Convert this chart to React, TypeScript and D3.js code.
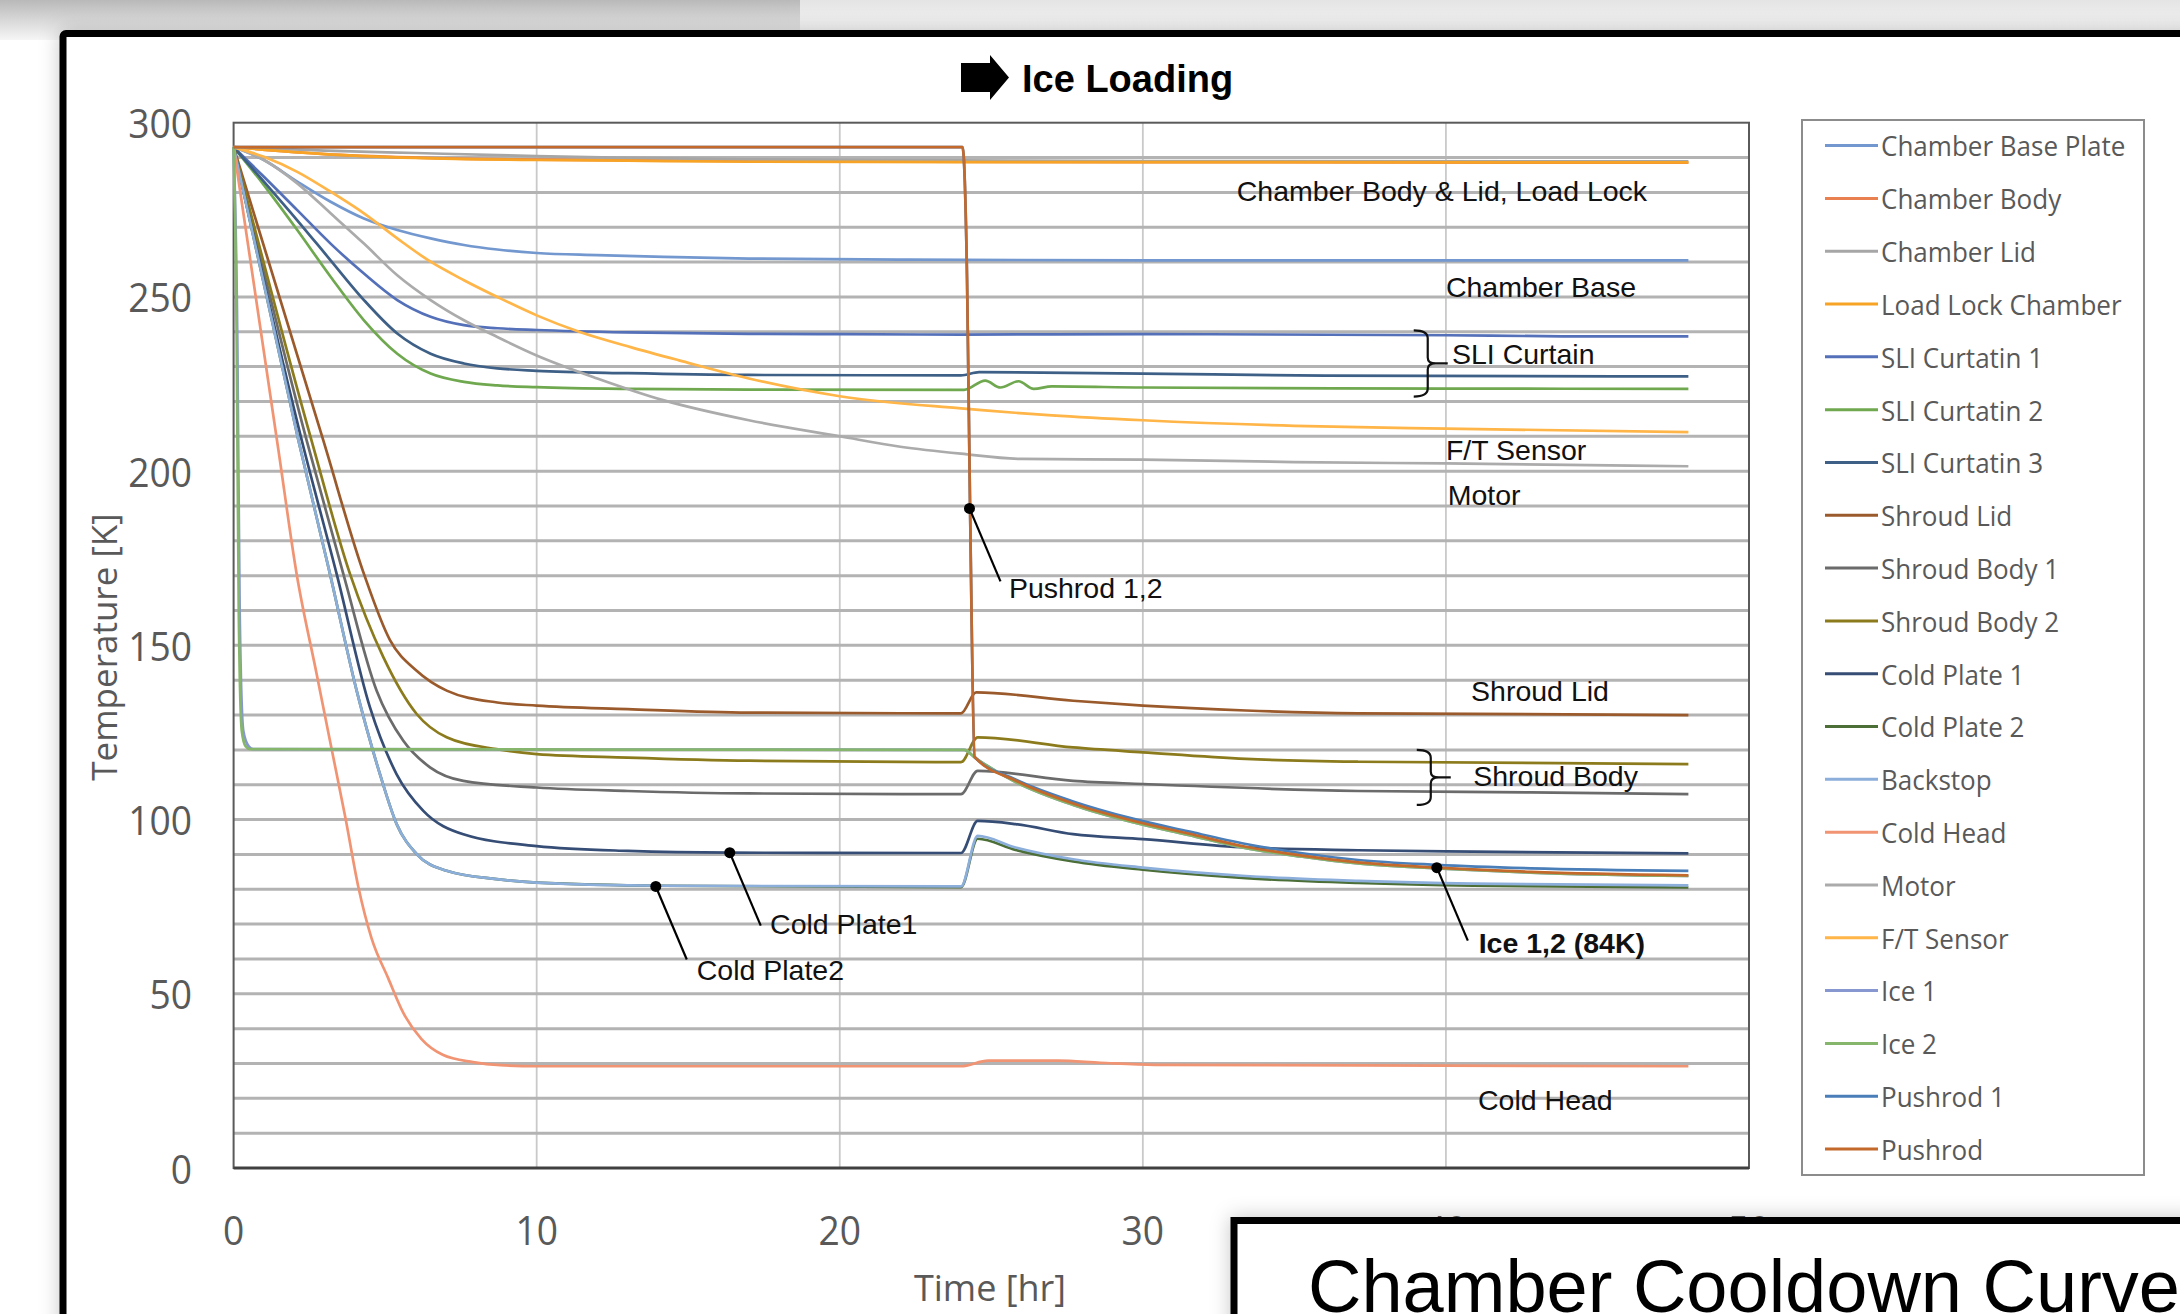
import * as d3 from 'd3'
import { useEffect, useRef } from 'react'

// time [hr], temperature [K]
const chamberBasePlate = [[0,293],[1,289.3],[2.1,283.1],[3.2,277.3],[4.3,272.5],[5.4,269.2],[6.5,266.8],[7.6,264.9],[8.7,263.6],[10,262.6],[12,262],[14.2,261.5],[17,261],[22,260.7],[30,260.5],[40,260.5],[48,260.5]]
const chamberBody = [[0,293],[3,291],[6,290],[10,289.4],[15,289.1],[20,288.9],[30,288.7],[48,288.5]]
const chamberLid = [[0,293],[3,292],[6,291.3],[10,290.4],[13,289.9],[17,289.5],[24,289.2],[30,289],[48,288.9]]
const loadLockChamber = [[0,293],[3,291],[6,289.9],[10,289.3],[13,289.1],[17,288.8],[24,288.7],[48,288.6]]
const sliCurtain1 = [[0,293],[1,284.5],[2.1,274.9],[3.2,265.3],[4.3,256.7],[5.4,249.1],[6.5,244.3],[7.6,241.9],[8.7,241],[10,240.5],[13,239.8],[17,239.4],[20,239.3],[24,239.2],[30,239.3],[40,239],[44,238.7],[48,238.7]]
const sliCurtain2 = [[0,293],[1,282.1],[2.1,269.2],[3.2,255.8],[4.3,243.3],[5.4,233.7],[6.5,228],[7.6,225.6],[8.7,224.6],[10,224.1],[13,223.6],[17,223.4],[24.1,223.3],[24.8,226],[25.3,224],[25.9,225.8],[26.4,223.6],[27,224.3],[30,224],[40,223.7],[48,223.6]]
const sliCurtain3 = [[0,293],[1,283.1],[2.1,272],[3.2,260.5],[4.3,249.1],[5.4,239.5],[6.5,233.7],[7.6,230.9],[8.7,229.5],[10,228.8],[13,228.1],[17,227.6],[24,227.5],[24.6,228.4],[30,228],[36,227.4],[48,227.2]]
const shroudLid = [[0,293],[2.96,208.8],[4.3,170.5],[5.16,151.5],[6.04,142.7],[7.03,137],[8.7,133.6],[10,132.7],[13,131.7],[17,130.7],[24,130.5],[24.5,136.5],[27.7,134.1],[30,132.7],[33.4,131.3],[37.1,130.5],[48,130]]
const shroudBody1 = [[0,293],[2.41,208.8],[3.62,170.5],[4.72,137],[5.6,122.6],[6.48,115],[7.58,111.1],[10,109.2],[13,108.2],[17,107.5],[24,107.3],[24.55,114],[27.7,111.1],[30,110.2],[37.1,108.2],[42.8,107.8],[48,107.3]]
const shroudBody2 = [[0,293],[2.57,208.8],[3.84,170.5],[4.94,146.6],[6.04,130.3],[7.03,123.6],[8.68,120.2],[10,118.8],[13,117.8],[17,116.9],[24,116.5],[24.55,123.6],[27.7,120.7],[30,119.3],[33.4,117.4],[37.1,116.6],[48,115.9]]
const coldPlate1 = [[0,293],[2.25,208.8],[3.4,170.5],[4.5,132.2],[5.38,113],[6.26,102.5],[7.58,95.8],[10,92.4],[13,91],[16.4,90.5],[24,90.4],[24.55,99.6],[25.8,98.7],[27.7,95.8],[30,94.4],[33.4,92],[37.1,91.2],[40.9,90.8],[48,90.3]]
const coldPlate2 = [[0,293],[2.14,208.8],[3.18,170.5],[4.06,137],[4.83,113],[5.38,98.7],[6.04,90.1],[7.03,85.3],[8.68,82.9],[10,81.9],[14.2,81],[24,80.6],[24.55,94.5],[25.8,91.3],[27.7,88],[30,85.6],[33.4,83.2],[37.1,81.8],[40.9,81],[48,80.5]]
const backstop = [[0,293],[2.14,208.8],[3.18,170.5],[4.06,137],[4.83,113],[5.38,98.7],[6.04,90.1],[7.03,85.3],[8.68,82.9],[10,81.9],[14.2,81],[24,80.8],[24.55,95.3],[25.8,92],[27.7,88.6],[30,86.2],[33.4,83.8],[37.1,82.4],[40.9,81.6],[48,81.1]]
const coldHead = [[0,293],[1.48,206],[2.08,170.5],[2.74,141.8],[3.18,122.6],[3.7,100],[4.12,80.5],[4.55,66],[5.1,54.5],[5.6,44.5],[6.2,37],[6.9,32.5],[7.9,30.4],[8.8,29.5],[10,29.2],[24,29.2],[24.9,30.8],[27.2,30.8],[28.6,30.2],[30.4,29.6],[48,29.2]]
const motor = [[0,293],[1,289.3],[2.1,282.6],[3.2,274],[4.3,265.3],[5.4,256.2],[6.5,249.1],[7.6,243.3],[8.7,238.5],[10,233.2],[12,226.6],[14.2,220.3],[17,214.6],[20,210],[22,207],[24,205],[26,203.5],[30,203.3],[35,202.6],[40,202.2],[48,201.4]]
const ftSensor = [[0,293],[1,290.2],[2.1,285.9],[3.2,280.2],[4.3,274],[5.4,266.8],[6.5,260.1],[7.6,254.8],[8.7,250],[10,244.7],[11.4,240],[13.1,235.6],[14.7,231.8],[17,226.6],[20,221.5],[24,218],[27,216],[30,214.6],[35,213],[40,212.2],[48,211.2]]
const ice1 = [[0,293],[0.12,240],[0.2,160],[0.32,125.5],[0.5,121],[0.65,120.2],[24.1,120],[24.5,117.5],[25.8,110.8],[27.7,104.2],[29.6,99.4],[31.5,95.6],[33.4,91.8],[35.2,89.4],[37.1,87.4],[39.7,86],[42.8,84.8],[48,83.8]]
const ice2 = [[0,293],[0.1,240],[0.17,160],[0.27,125.5],[0.4,121],[0.55,120.2],[24.1,120],[24.5,117.5],[25.8,110.8],[27.7,104.2],[29.6,99.4],[31.5,95.6],[33.4,91.8],[35.2,89.4],[37.1,87.4],[39.7,86],[42.8,84.8],[48,83.8]]
const pushrod1 = [[0,293],[24.05,293],[24.2,255],[24.3,189],[24.45,118],[25.8,111.5],[27.7,105.2],[29.6,100.4],[31.5,96.6],[33.4,93],[35.2,90.4],[37.1,88.4],[39.7,87],[42.8,86],[48,85.3]]
const pushrod = [[0,293],[24.05,293],[24.2,255],[24.3,189],[24.45,118],[25.8,111.2],[27.7,104.6],[29.6,99.8],[31.5,96],[33.4,92.2],[35.2,89.7],[37.1,87.7],[39.7,86.2],[42.8,85],[48,84]]

const seriesNames = ['Chamber Base Plate','Chamber Body','Chamber Lid','Load Lock Chamber','SLI Curtatin 1','SLI Curtatin 2','SLI Curtatin 3','Shroud Lid','Shroud Body 1','Shroud Body 2','Cold Plate 1','Cold Plate 2','Backstop','Cold Head','Motor','F/T Sensor','Ice 1','Ice 2','Pushrod 1','Pushrod']
const seriesColors = ['#7398cf','#e8804f','#a6a6a6','#f7a326','#5470b9','#6fa84f','#3e5f86','#9b5a2b','#6b6b6b','#8c7b1c','#364d75','#4c6e37','#8caedb','#f09473','#ababab','#ffb547','#8797d0','#86b66b','#4a7eb9','#c4692c']
const seriesData = [chamberBasePlate,chamberBody,chamberLid,loadLockChamber,sliCurtain1,sliCurtain2,sliCurtain3,shroudLid,shroudBody1,shroudBody2,coldPlate1,coldPlate2,backstop,coldHead,motor,ftSensor,ice1,ice2,pushrod1,pushrod]

const xTicks = [0,10,20,30,40,50]
const yTicks = [0,50,100,150,200,250,300]
const yGridLines = [10,20,30,40,50,60,70,80,90,100,110,120,130,140,150,160,170,180,190,200,210,220,230,240,250,260,270,280,290]

// labels sit at [t, T] of their baseline start
const labels = [
	{ text: 'Chamber Body & Lid, Load Lock', t: 33.1, T: 277.5 },
	{ text: 'Chamber Base', t: 40.0, T: 250.0 },
	{ text: 'SLI Curtain', t: 40.2, T: 230.7 },
	{ text: 'F/T Sensor', t: 40.0, T: 203.1 },
	{ text: 'Motor', t: 40.06, T: 190.4 },
	{ text: 'Pushrod 1,2', t: 25.58, T: 163.7 },
	{ text: 'Shroud Lid', t: 40.83, T: 134.1 },
	{ text: 'Shroud Body', t: 40.9, T: 109.7 },
	{ text: 'Ice 1,2 (84K)', t: 41.08, T: 61.7, bold: true },
	{ text: 'Cold Plate1', t: 17.7, T: 67.2 },
	{ text: 'Cold Plate2', t: 15.28, T: 53.9 },
	{ text: 'Cold Head', t: 41.06, T: 16.6 },
]
const markers = [
	{ t: 24.28, T: 189.3 },
	{ t: 16.37, T: 90.5 },
	{ t: 13.93, T: 80.8 },
	{ t: 39.7, T: 86.2 },
]
const braces = [
	{ t: 39.4, top: 240.4, bottom: 221.4 },
	{ t: 39.5, top: 120, bottom: 104.2 },
]

export default function App() {
	const svgRef = useRef(null)

	useEffect(() => {
		const svg = d3.select(svgRef.current)
		svg.selectAll('*').remove()
		const W = 2180
		const H = 1314

		const x = d3.scaleLinear().domain([0, 50]).range([233.6, 1749])
		const y = d3.scaleLinear().domain([0, 300]).range([1168, 122.7])

		const defs = svg.append('defs')
		const g1 = defs.append('linearGradient').attr('id', 'topL').attr('x1', 0).attr('y1', 0).attr('x2', 0).attr('y2', 1)
		g1.append('stop').attr('offset', 0).attr('stop-color', '#b9b9b9')
		g1.append('stop').attr('offset', 1).attr('stop-color', '#f6f6f6')
		const g2 = defs.append('linearGradient').attr('id', 'topR').attr('x1', 0).attr('y1', 0).attr('x2', 0).attr('y2', 1)
		g2.append('stop').attr('offset', 0).attr('stop-color', '#e4e4e4')
		g2.append('stop').attr('offset', 1).attr('stop-color', '#fbfbfb')
		const sh = defs.append('filter').attr('id', 'shadow').attr('x', -0.1).attr('y', -0.1).attr('width', 1.2).attr('height', 1.2)
		sh.append('feDropShadow').attr('dx', 0).attr('dy', 0).attr('stdDeviation', 10).attr('flood-color', '#000').attr('flood-opacity', 0.22)

		// page background
		svg.append('rect').attr('width', W).attr('height', H).attr('fill', '#fff')
		svg.append('rect').attr('x', 0).attr('y', 0).attr('width', 800).attr('height', 40).attr('fill', 'url(#topL)')
		svg.append('rect').attr('x', 800).attr('y', 0).attr('width', 1380).attr('height', 40).attr('fill', 'url(#topR)')

		// outer slide frame
		svg.append('rect')
			.attr('x', 63).attr('y', 33.5).attr('width', 2300).attr('height', 1500).attr('rx', 3)
			.attr('fill', '#fff').attr('stroke', '#000').attr('stroke-width', 7)
			.attr('filter', 'url(#shadow)')

		// title
		svg.append('path')
			.attr('d', 'M961,63 L990,63 L990,55 L1009,77.5 L990,100 L990,92 L961,92 Z')
			.attr('fill', '#000')
		svg.append('text')
			.attr('x', 1022).attr('y', 92)
			.attr('font-family', 'Liberation Sans, Arial, sans-serif')
			.attr('font-weight', 'bold').attr('font-size', 38)
			.attr('fill', '#000')
			.text('Ice Loading')

		// grid
		svg.append('g').selectAll('line').data(xTicks.slice(1, -1)).join('line')
			.attr('x1', (d) => x(d)).attr('x2', (d) => x(d))
			.attr('y1', y(300)).attr('y2', y(0))
			.attr('stroke', '#c9c9c9').attr('stroke-width', 1.8)
		svg.append('g').selectAll('line').data(yGridLines).join('line')
			.attr('x1', x(0)).attr('x2', x(50))
			.attr('y1', (d) => y(d)).attr('y2', (d) => y(d))
			.attr('stroke', '#b3b3b3').attr('stroke-width', 3)

		// plot frame
		svg.append('rect')
			.attr('x', x(0)).attr('y', y(300)).attr('width', x(50) - x(0)).attr('height', y(0) - y(300))
			.attr('fill', 'none').attr('stroke', '#5a5a5a').attr('stroke-width', 2)
		svg.append('line')
			.attr('x1', x(0)).attr('x2', x(50)).attr('y1', y(0)).attr('y2', y(0))
			.attr('stroke', '#404040').attr('stroke-width', 3)

		// series
		const line = d3.line().curve(d3.curveMonotoneX).x((d) => x(d[0])).y((d) => y(d[1]))
		seriesData.forEach((data, i) => {
			svg.append('path')
				.datum(data)
				.attr('fill', 'none')
				.attr('stroke', seriesColors[i])
				.attr('stroke-width', 2.7)
				.attr('stroke-linejoin', 'round')
				.attr('d', line)
		})

		// axis labels
		svg.append('g').selectAll('text').data(yTicks).join('text')
			.attr('transform', (d) => `translate(192,${y(d)}) scale(0.93,1)`)
			.attr('text-anchor', 'end').attr('dominant-baseline', 'central')
			.attr('font-family', 'Open Sans, sans-serif').attr('font-size', 40)
			.attr('fill', '#595959')
			.text((d) => d)
		svg.append('g').selectAll('text').data(xTicks).join('text')
			.attr('transform', (d) => `translate(${x(d)},1229) scale(0.93,1)`)
			.attr('text-anchor', 'middle').attr('dominant-baseline', 'central')
			.attr('font-family', 'Open Sans, sans-serif').attr('font-size', 40)
			.attr('fill', '#595959')
			.text((d) => d)
		svg.append('text')
			.attr('x', 990).attr('y', 1287)
			.attr('text-anchor', 'middle').attr('dominant-baseline', 'central')
			.attr('font-family', 'Open Sans, sans-serif').attr('font-size', 36)
			.attr('fill', '#595959')
			.text('Time [hr]')
		svg.append('text')
			.attr('transform', 'translate(103,647) rotate(-90)')
			.attr('text-anchor', 'middle').attr('dominant-baseline', 'central')
			.attr('font-family', 'Open Sans, sans-serif').attr('font-size', 35)
			.attr('fill', '#595959')
			.text('Temperature [K]')

		// annotations
		svg.append('g').selectAll('text').data(labels).join('text')
			.attr('x', (d) => x(d.t)).attr('y', (d) => y(d.T))
			.attr('font-family', 'Liberation Sans, Arial, sans-serif')
			.attr('font-size', 28.5)
			.attr('font-weight', (d) => (d.bold ? 'bold' : 'normal'))
			.attr('fill', '#111')
			.text((d) => d.text)
		svg.append('g').selectAll('line').data(markers).join('line')
			.attr('x1', (d) => x(d.t)).attr('y1', (d) => y(d.T))
			.attr('x2', (d) => x(d.t) + 31).attr('y2', (d) => y(d.T) + 73)
			.attr('stroke', '#000').attr('stroke-width', 2.2)
		svg.append('g').selectAll('circle').data(markers).join('circle')
			.attr('cx', (d) => x(d.t)).attr('cy', (d) => y(d.T)).attr('r', 5.5)
			.attr('fill', '#000')
		braces.forEach((b) => {
			const bx = x(b.t)
			const y0 = y(b.top)
			const y1 = y(b.bottom)
			const ym = (y0 + y1) / 2
			svg.append('path')
				.attr('d', `M${bx - 14},${y0} Q${bx},${y0} ${bx},${y0 + 8} L${bx},${ym - 6} Q${bx},${ym} ${bx + 8},${ym} Q${bx},${ym} ${bx},${ym + 6} L${bx},${y1 - 8} Q${bx},${y1} ${bx - 14},${y1} M${bx + 8},${ym} L${bx + 20},${ym}`)
				.attr('fill', 'none').attr('stroke', '#111').attr('stroke-width', 2.2)
		})

		// legend
		const lg = svg.append('g')
		lg.append('rect')
			.attr('x', 1802).attr('y', 120).attr('width', 342).attr('height', 1055)
			.attr('fill', '#fff').attr('stroke', '#8c8c8c').attr('stroke-width', 2)
		const ly = d3.scalePoint().domain(seriesNames).range([145.6, 1149])
		seriesNames.forEach((name, i) => {
			lg.append('line')
				.attr('x1', 1825).attr('x2', 1878)
				.attr('y1', ly(name)).attr('y2', ly(name))
				.attr('stroke', seriesColors[i]).attr('stroke-width', 3)
			lg.append('text')
				.attr('transform', `translate(1881,${ly(name)}) scale(0.93,1)`)
				.attr('dominant-baseline', 'central')
				.attr('font-family', 'Open Sans, sans-serif').attr('font-size', 28)
				.attr('fill', '#595959')
				.text(name)
		})

		// caption box overlapping the bottom right
		svg.append('rect')
			.attr('x', 1234).attr('y', 1220.5).attr('width', 1100).attr('height', 300)
			.attr('fill', '#fff').attr('stroke', '#000').attr('stroke-width', 7)
			.attr('filter', 'url(#shadow)')
		svg.append('text')
			.attr('x', 1308).attr('y', 1312)
			.attr('font-family', 'Liberation Sans, Arial, sans-serif')
			.attr('font-size', 74).attr('fill', '#000')
			.text('Chamber Cooldown Curve')
	}, [])

	return (
		<div style={{ position: 'absolute', left: 0, top: 0, width: 2180, height: 1314, overflow: 'hidden' }}>
			<svg ref={svgRef} width={2180} height={1314} style={{ display: 'block' }} />
		</div>
	)
}
